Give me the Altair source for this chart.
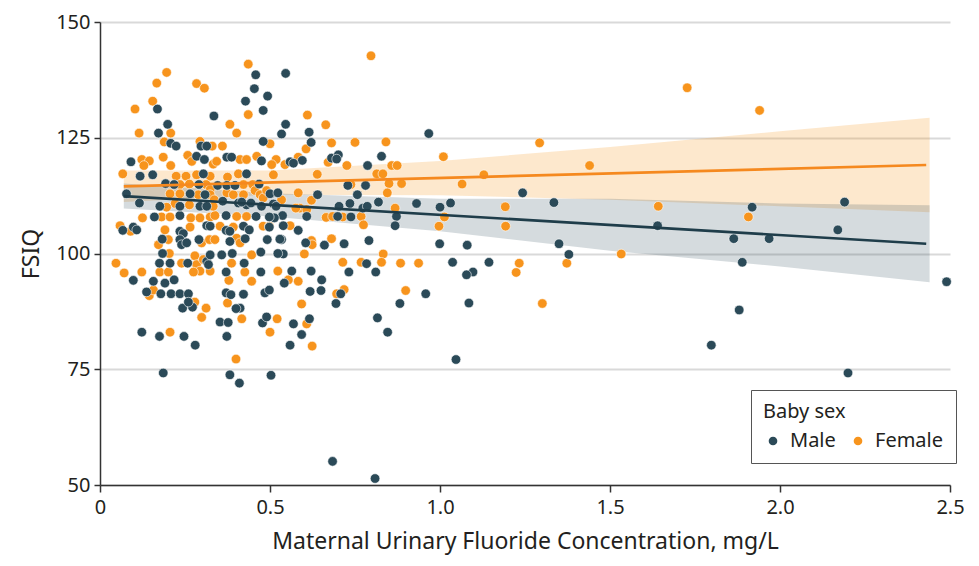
import altair as alt
import pandas as pd

# ---------------- data ----------------
male_x = [2.49, 2.2, 2.19, 2.17, 1.918, 1.864, 1.968, 1.889, 1.88, 1.798,
          1.243, 1.335, 1.64, 1.35, 1.379, 1.144, 1.097, 1.08, 1.085,
          0.967, 0.546, 0.809, 0.684,
          0.546, 0.534, 0.615, 0.621, 0.595, 0.559, 0.569, 0.681, 0.701, 0.696, 0.787, 0.828,
          0.729, 0.781, 0.757, 0.64, 0.735, 0.819, 0.931, 1.0, 1.031, 0.703, 0.773, 0.786,
          0.537, 0.608, 0.699, 0.738, 0.872, 0.868, 0.539, 0.583, 0.534, 0.605, 0.66, 0.718,
          0.791, 0.999, 0.539,
          0.784, 1.037, 1.078, 0.564, 0.621, 0.732, 0.811, 0.542, 0.652, 0.618, 0.65, 0.708,
          0.694, 0.958, 0.882, 0.816, 0.846, 0.569, 0.616, 0.593, 0.559, 1.047,
          0.459, 0.513, 0.422, 0.439, 0.498, 0.427, 0.492, 0.529, 0.473, 0.523, 0.424, 0.473,
          0.422, 0.485, 0.498, 0.412, 0.478, 0.49, 0.503, 0.41,
          0.16, 0.235, 0.371, 0.067, 0.098, 0.108, 0.235, 0.245, 0.314, 0.324, 0.371, 0.382,
          0.183, 0.235, 0.24, 0.255, 0.291, 0.382, 0.098, 0.175, 0.206, 0.184, 0.258, 0.314,
          0.319, 0.324, 0.358, 0.389, 0.371, 0.157, 0.191, 0.218, 0.137, 0.179, 0.209, 0.235,
          0.26, 0.243, 0.272, 0.26, 0.371, 0.385, 0.4, 0.353, 0.377, 0.123, 0.175, 0.247,
          0.28, 0.373, 0.186, 0.382,
          0.428, 0.169, 0.335, 0.199, 0.172, 0.208, 0.224, 0.297, 0.314, 0.091, 0.284, 0.307,
          0.373, 0.387, 0.118, 0.155, 0.304, 0.431, 0.193, 0.218, 0.291, 0.346, 0.373, 0.397,
          0.078, 0.265, 0.309, 0.361, 0.116, 0.235, 0.294, 0.314, 0.407, 0.431, 0.176,
          0.458, 0.454, 0.493, 0.48, 0.48, 0.475, 0.468, 0.5, 0.523, 0.417, 0.444, 0.475,
          0.51, 0.518, 0.498]
male_y = [93.9, 74.2, 111.1, 105.1, 110.0, 103.2, 103.2, 98.1, 87.8, 80.2,
          113.1, 111.0, 106.0, 102.1, 99.8, 98.1, 96.0, 101.8, 89.3,
          125.9, 138.9, 51.4, 55.1,
          127.9, 125.8, 126.2, 124.0, 120.1, 119.8, 119.5, 120.6, 121.3, 120.4, 119.0, 121.0,
          114.7, 114.7, 112.7, 112.7, 110.8, 111.1, 110.8, 110.0, 110.9, 110.2, 109.8, 110.2,
          108.2, 108.0, 108.0, 107.9, 108.0, 106.0, 106.0, 105.0, 103.0, 102.3, 101.8, 102.1,
          102.8, 102.1, 99.9,
          97.8, 98.1, 95.4, 96.2, 96.2, 96.0, 96.0, 93.6, 94.3, 91.8, 92.0, 91.3,
          89.2, 91.3, 89.2, 86.1, 83.0, 84.8, 85.9, 82.5, 80.2, 77.1,
          108.0, 107.7, 105.9, 105.1, 105.7, 103.2, 103.0, 103.1, 100.3, 100.0, 97.9, 96.0,
          91.2, 91.5, 92.1, 88.2, 85.0, 86.3, 73.7, 72.0,
          107.9, 108.2, 108.2, 105.0, 105.7, 105.1, 104.8, 104.3, 106.0, 105.9, 105.0, 104.8,
          103.1, 103.0, 101.9, 102.3, 103.0, 102.6, 94.2, 97.9, 97.9, 100.0, 97.9, 98.3,
          97.6, 99.7, 99.7, 100.0, 96.0, 94.0, 93.6, 94.3, 91.7, 91.3, 91.3, 91.3,
          91.3, 88.2, 88.4, 89.5, 91.5, 91.1, 88.1, 85.2, 85.1, 83.0, 82.1, 82.1,
          80.2, 82.1, 74.2, 73.8,
          132.9, 131.2, 129.7, 127.9, 126.0, 123.8, 123.2, 123.2, 123.2, 119.8, 121.0, 120.3,
          120.8, 120.8, 116.7, 117.0, 117.2, 117.2, 115.1, 114.9, 114.9, 114.7, 114.7, 114.7,
          112.9, 112.9, 112.7, 111.3, 110.9, 110.2, 110.2, 110.2, 110.9, 110.5, 110.2,
          138.6, 135.6, 134.0, 130.9, 124.2, 120.0, 115.0, 112.9, 113.1, 111.1, 110.9, 110.2,
          110.7, 110.2, 107.9]

female_x = [1.94, 1.907, 1.727, 1.293, 1.44, 1.129, 1.192, 1.642, 1.193, 1.533, 1.233, 1.373,
            1.224, 1.301, 0.797,
            0.61, 0.664, 0.606, 0.681, 0.75, 0.841, 1.01, 0.583, 0.544, 0.671, 0.726, 0.814,
            0.832, 0.858, 0.874, 0.639, 0.738, 0.85, 0.887, 1.065, 0.845, 0.583, 0.622, 0.868,
            0.588, 0.608, 0.576, 0.665, 0.684, 0.714, 0.768, 1.013, 0.775, 0.997, 0.559, 0.622,
            0.624, 0.681, 0.601, 0.833,
            0.714, 0.768, 0.828, 0.884, 0.937, 0.554, 0.583, 0.696, 0.718, 0.593, 0.899, 0.608,
            0.624,
            0.48, 0.498, 0.446, 0.426, 0.446, 0.523, 0.417, 0.521, 0.5, 0.40,
            0.125, 0.181, 0.206, 0.267, 0.294, 0.324, 0.338, 0.402, 0.431, 0.059, 0.09, 0.191,
            0.265, 0.353, 0.392, 0.172, 0.201, 0.299, 0.322, 0.338, 0.402, 0.412, 0.047, 0.071,
            0.123, 0.176, 0.201, 0.204, 0.24, 0.279, 0.284, 0.294, 0.304, 0.275, 0.324, 0.387,
            0.379, 0.145, 0.157, 0.279, 0.312, 0.299, 0.375, 0.206,
            0.196, 0.167, 0.284, 0.307, 0.436, 0.436, 0.155, 0.103, 0.382, 0.115, 0.208, 0.402,
            0.189, 0.294, 0.33, 0.36, 0.186, 0.123, 0.145, 0.258, 0.27, 0.333, 0.343, 0.412,
            0.431, 0.208, 0.129, 0.067, 0.224, 0.253, 0.284, 0.324, 0.375, 0.407, 0.235, 0.263,
            0.312, 0.324, 0.422, 0.206, 0.235, 0.289, 0.324, 0.336, 0.373, 0.392, 0.422, 0.221,
            0.263, 0.333, 0.196,
            0.5, 0.461, 0.518, 0.505, 0.51, 0.449, 0.456, 0.471, 0.48, 0.49, 0.534]
female_y = [130.9, 107.9, 135.8, 123.9, 119.0, 117.0, 110.1, 110.2, 105.9, 99.9, 97.9, 97.9,
            95.9, 89.2, 142.7,
            129.9, 127.8, 122.6, 123.9, 124.0, 124.1, 120.9, 120.8, 119.2, 119.7, 119.0, 117.2,
            117.2, 119.0, 119.0, 117.1, 114.9, 115.1, 115.1, 115.0, 113.1, 113.1, 111.5, 109.8,
            109.8, 109.5, 109.8, 107.8, 108.0, 107.9, 108.0, 107.9, 106.2, 105.9, 106.0, 102.8,
            101.9, 103.2, 99.9, 99.9,
            98.1, 98.1, 98.1, 97.9, 97.9, 94.3, 94.0, 91.3, 92.2, 89.1, 92.0, 84.8,
            80.0,
            105.9, 105.9, 99.7, 96.0, 94.0, 96.2, 85.9, 85.9, 83.0, 77.2,
            107.7, 107.9, 107.9, 107.7, 107.7, 107.9, 108.2, 108.0, 108.0, 106.0, 104.8, 105.1,
            105.7, 105.9, 105.7, 101.9, 103.0, 102.3, 103.0, 103.0, 103.3, 102.3, 97.9, 95.8,
            96.0, 96.0, 96.0, 100.0, 97.9, 99.5, 97.6, 96.2, 98.7, 96.0, 96.2, 97.9,
            94.2, 90.9, 92.1, 89.5, 88.2, 86.2, 89.3, 83.0,
            139.1, 136.8, 136.7, 135.7, 140.9, 130.0, 132.9, 131.2, 127.9, 126.0, 126.0, 126.0,
            124.1, 124.2, 123.2, 123.2, 120.8, 120.3, 120.0, 121.2, 119.9, 119.3, 119.9, 120.3,
            120.3, 119.0, 119.0, 117.2, 116.7, 116.7, 117.0, 116.7, 116.5, 117.2, 114.9, 115.0,
            114.9, 113.8, 114.9, 112.9, 112.9, 112.7, 112.7, 111.6, 113.1, 112.7, 112.7, 110.8,
            110.5, 110.2, 110.0,
            123.7, 121.0, 120.3, 119.2, 117.0, 114.9, 113.6, 112.7, 112.0, 113.6, 111.6]

# regression fits and confidence bands
band_x = [0.07, 0.5, 1.0, 1.5, 2.0, 2.44]
female_lo = [111.1, 112.7, 112.6, 111.6, 110.2, 108.9]
female_hi = [117.9, 117.9, 120.0, 123.0, 126.4, 129.3]
male_lo = [109.7, 108.0, 104.8, 100.6, 97.2, 93.8]
male_hi = [115.1, 113.0, 111.8, 111.8, 110.8, 110.4]
fit_x = [0.07, 2.43]
female_fit = [114.5, 119.1]
male_fit = [112.4, 102.1]

x_ticks = [0, 0.5, 1.0, 1.5, 2.0, 2.5]
y_ticks = [50, 75, 100, 125, 150]

MALE_C = "#2b4a58"
FEMALE_C = "#f7941d"
FONT = "Noto Sans"
TXT = "#231f20"

# ---------------- tables ----------------
pts = pd.concat([
    pd.DataFrame({"x": female_x, "y": female_y, "sex": "Female"}),
    pd.DataFrame({"x": male_x, "y": male_y, "sex": "Male"}),
], ignore_index=True)
bands = pd.DataFrame({"x": band_x, "flo": female_lo, "fhi": female_hi,
                      "mlo": male_lo, "mhi": male_hi})
fits = pd.DataFrame({"x": fit_x, "f": female_fit, "m": male_fit})

xs = alt.Scale(domain=[0, 2.5], nice=False, zero=False)
ys = alt.Scale(domain=[50, 150], nice=False, zero=False)

x_axis = alt.Axis(values=x_ticks, title="Maternal Urinary Fluoride Concentration, mg/L",
                  labelExpr="datum.value == 0 ? '0' : format(datum.value, '.1f')",
                  labelFlush=False, grid=False, tickSize=7, labelPadding=5, titlePadding=13)
y_axis = alt.Axis(values=y_ticks, title="FSIQ", grid=True, tickSize=6,
                  labelPadding=4, titlePadding=12)

X = alt.X("x:Q", scale=xs, axis=x_axis)
base_b = alt.Chart(bands)
fband = base_b.mark_area(color=FEMALE_C, opacity=0.22).encode(
    x=X, y=alt.Y("flo:Q", scale=ys, axis=y_axis), y2="fhi:Q")
mband = base_b.mark_area(color=MALE_C, opacity=0.2).encode(
    x=alt.X("x:Q", scale=xs), y=alt.Y("mlo:Q", scale=ys), y2="mhi:Q")

points = alt.Chart(pts).mark_circle(size=92, opacity=1, stroke="white", strokeWidth=0.6).encode(
    x=alt.X("x:Q", scale=xs),
    y=alt.Y("y:Q", scale=ys),
    color=alt.Color("sex:N", scale=alt.Scale(domain=["Male", "Female"], range=[MALE_C, FEMALE_C]),
                    sort=["Male", "Female"],
                    legend=alt.Legend(title="Baby sex", orient="none", legendX=651, legendY=368,
                                      direction="horizontal", columns=2,
                                      symbolType="circle", symbolSize=75, symbolStrokeWidth=0,
                                      labelOffset=7, columnPadding=12,
                                      padding=12, strokeColor="#555555", fillColor="white",
                                      titleFontSize=20, labelFontSize=20, titleFont=FONT,
                                      labelFont=FONT, titleColor=TXT, labelColor=TXT,
                                      titleFontWeight="normal", titlePadding=9)),
)

fline = alt.Chart(fits).mark_line(color="#f5891f", strokeWidth=2.6).encode(
    x=alt.X("x:Q", scale=xs), y=alt.Y("f:Q", scale=ys))
mline = alt.Chart(fits).mark_line(color="#1f3d4a", strokeWidth=2.6).encode(
    x=alt.X("x:Q", scale=xs), y=alt.Y("m:Q", scale=ys))

chart = alt.layer(fband, mband, points, fline, mline).properties(
    width=850, height=463,
    autosize=alt.AutoSizeParams(type="none"),
    padding={"left": 92, "top": 14, "right": 14, "bottom": 72},
).configure_view(stroke=None).configure_axis(
    domainColor="#333333", tickColor="#333333", domainWidth=1.5, tickWidth=1.5,
    gridColor="#d9d9d9", gridWidth=2,
    labelFont=FONT, titleFont=FONT, labelFontSize=20, titleFontSize=23,
    labelColor=TXT, titleColor=TXT, titleFontWeight="normal",
)

chart.save("out.html", embed_options={"renderer": "svg", "actions": False})
